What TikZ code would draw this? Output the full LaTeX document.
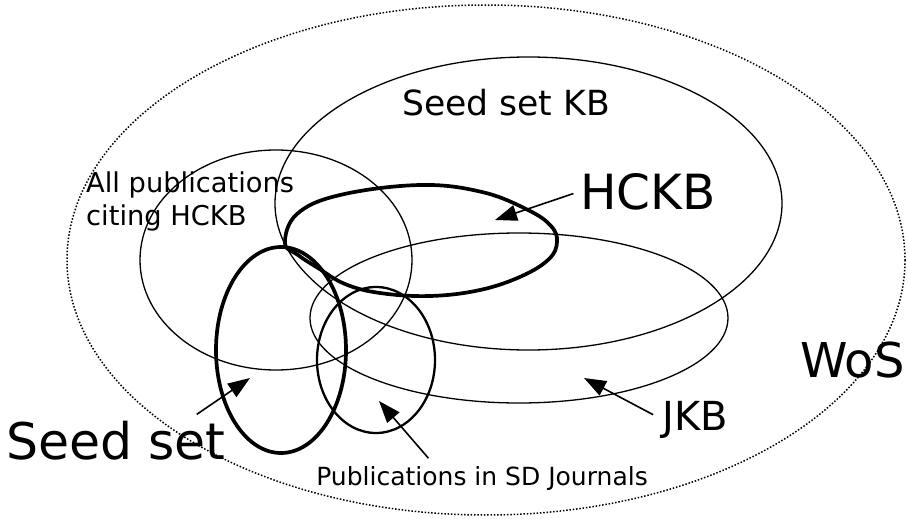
\documentclass[tikz,border=0pt]{standalone}
\usepackage{fontspec}
\setmainfont{DejaVu Sans}
\usetikzlibrary{arrows.meta}

\begin{document}
\begin{tikzpicture}[x=1pt, y=-1pt,
		thinset/.style={line width=1.3pt},
		thickset/.style={line width=3.7pt},
		wosline/.style={line width=1.5pt, dash pattern=on 1.5pt off 1.8pt},
		pointer/.style={line width=1.6pt, -{Triangle[length=22pt, width=16pt]}},
		lbl/.style={inner sep=0pt}]
		%%%%% START %%%%%
		
		\useasboundingbox (0, 0) rectangle (908, 519);
		
		\draw[wosline] (486, 260) ellipse [x radius=419, y radius=255];
		
		\draw[thinset] (528.5, 203.5) ellipse [x radius=253.5, y radius=146.5];
		\draw[thinset] (276, 260) ellipse [x radius=136, y radius=110];
		\draw[thinset] (519, 318) ellipse [x radius=209, y radius=85];
		\draw[thinset, line width=2.3pt] (376, 360) ellipse [x radius=59, y radius=73];
		
		\draw[thickset] (281, 350) ellipse [x radius=65, y radius=103];
		\draw[thickset] plot[smooth cycle, tension=0.65] coordinates {(285, 243) (297, 214) (340, 195) (420, 185) (482, 192) (528, 210) (551, 226) (557, 242) (549, 259) (522, 276) (480, 290) (430, 296) (380, 293) (345, 284) (318, 268) (298, 255)};
		
		\node[lbl, anchor=base, font=\fontsize{34.6}{41}\selectfont] (kblbl) at (506, 115) {Seed set KB};
		\node[lbl, anchor=base west, align=left, font=\fontsize{27.3}{33}\selectfont] (citelbl) at (86, 225) {All publications\\citing HCKB};
		\node[lbl, anchor=base west, font=\fontsize{48.5}{58}\selectfont] (hckblbl) at (580, 209) {HCKB};
		\node[lbl, anchor=base west, font=\fontsize{50.5}{60}\selectfont] (seedlbl) at (6, 459) {Seed set};
		\node[lbl, anchor=base west, font=\fontsize{48}{58}\selectfont] (woslbl) at (800, 377) {WoS};
		\node[lbl, anchor=base west, font=\fontsize{40}{48}\selectfont] (jkblbl) at (662, 430) {JKB};
		\node[lbl, anchor=base, font=\fontsize{25}{30}\selectfont] (publbl) at (482, 485) {Publications in SD Journals};
		
		\coordinate (hckbtip) at (495, 220);
		\coordinate (seedtip) at (250, 378);
		\coordinate (jkbtip) at (584, 378);
		\coordinate (pubtip) at (379, 401);
		
		\draw[pointer, shorten <=7pt] (hckblbl.west) -- (hckbtip);
		\draw[pointer, shorten <=10pt] (jkblbl.west) -- (jkbtip);
		\draw[pointer, shorten <=10pt] ([xshift=-47pt]publbl.north) -- (pubtip);
		\draw[pointer, shorten <=10.7pt] ([xshift=-38pt]seedlbl.north east) -- (seedtip);
		
		%%%%% END %%%%%
\end{tikzpicture}
\end{document}
